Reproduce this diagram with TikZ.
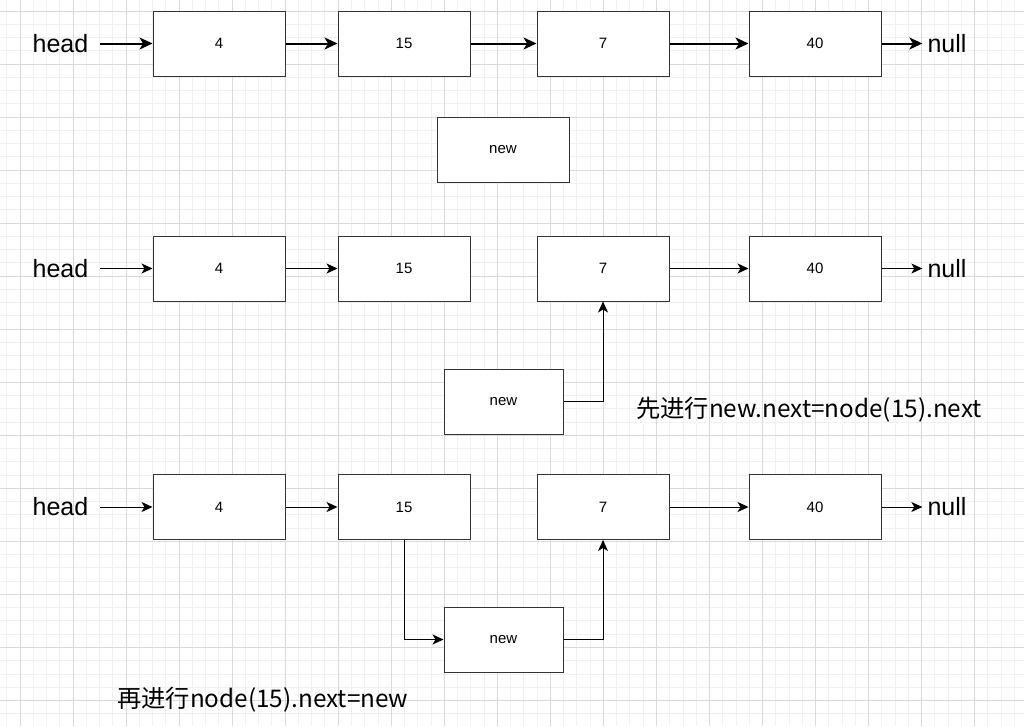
\documentclass[tikz,border=0pt]{standalone}
\usepackage{fontspec}
\setmainfont{Liberation Sans}
\newfontfamily\cjk{Noto Sans CJK SC}
\usetikzlibrary{arrows.meta,positioning}
\definecolor{gridminor}{HTML}{F1F1F1}
\definecolor{gridmajor}{HTML}{DADADA}
\definecolor{boxline}{HTML}{333333}

\begin{document}
\begin{tikzpicture}[
    x=1pt, y=-1pt,
    box/.style={draw=boxline, fill=white, line width=1pt, minimum width=132pt,
      minimum height=65pt, inner sep=0pt, font=\fontsize{15}{17}\selectfont},
    smallbox/.style={box, minimum width=119pt},
    word/.style={font=\fontsize{25}{29}\selectfont, inner sep=0pt},
    link/.style={-{Stealth[length=11pt,width=10pt,inset=3pt]}, line width=1pt},
    boldlink/.style={-{Stealth[length=13pt,width=12pt,inset=3.5pt]}, line width=2pt},
    note/.style={font=\cjk\fontsize{24.3}{28}\selectfont, inner sep=0pt, anchor=west}
  ]

  % Background grid
  \useasboundingbox (0,0) rectangle (1024,726);
  \fill[white] (0,0) rectangle (1024,726);
  \foreach \i in {-1,...,76}
    \draw[gridminor, line width=1pt] ({20+13.26*\i},0) -- ({20+13.26*\i},726);
  \foreach \j in {0,...,54}
    \draw[gridminor, line width=1pt] (0,{11+13.26*\j}) -- (1024,{11+13.26*\j});
  \foreach \i in {0,...,19}
    \draw[gridmajor, line width=1pt] ({20+53.04*\i},0) -- ({20+53.04*\i},726);
  \foreach \j in {0,...,13}
    \draw[gridmajor, line width=1pt] (0,{11+53.04*\j}) -- (1024,{11+53.04*\j});

  % Row 1: original list
  \node[word] (head1) at (60.5,43.5) {head};
  \node[box] (a4) at (219,43.5) {4};
  \node[box] (a15) at (404,43.5) {15};
  \node[box] (a7) at (603,43.5) {7};
  \node[box] (a40) at (815,43.5) {40};
  \node[word] (null1) at (947,43.5) {null};
  \node[box] (new1) at (503,149.5) {new};

  \draw[boldlink, shorten <=11pt] (head1) -- (a4);
  \draw[boldlink] (a4) -- (a15);
  \draw[boldlink] (a15) -- (a7);
  \draw[boldlink] (a7) -- (a40);
  \draw[boldlink, shorten >=5pt] (a40) -- (null1);

  % Row 2: new.next = node(15).next
  \node[word] (head2) at (60.5,268.5) {head};
  \node[box] (b4) at (219,268.5) {4};
  \node[box] (b15) at (404,268.5) {15};
  \node[box] (b7) at (603,268.5) {7};
  \node[box] (b40) at (815,268.5) {40};
  \node[word] (null2) at (947,268.5) {null};
  \node[smallbox] (new2) at (503.5,401.5) {new};

  \draw[link, shorten <=11pt] (head2) -- (b4);
  \draw[link] (b4) -- (b15);
  \draw[link] (b7) -- (b40);
  \draw[link, shorten >=5pt] (b40) -- (null2);
  \draw[link] (new2.east) -| (b7.south);

  \node[note] (step1) at (636,409.5) {先进行new.next=node(15).next};

  % Row 3: node(15).next = new
  \node[word] (head3) at (60.5,507) {head};
  \node[box] (c4) at (219,507) {4};
  \node[box] (c15) at (404,507) {15};
  \node[box] (c7) at (603,507) {7};
  \node[box] (c40) at (815,507) {40};
  \node[word] (null3) at (947,507) {null};
  \node[smallbox] (new3) at (503.5,639.5) {new};

  \draw[link, shorten <=11pt] (head3) -- (c4);
  \draw[link] (c4) -- (c15);
  \draw[link] (c7) -- (c40);
  \draw[link, shorten >=5pt] (c40) -- (null3);
  \draw[link] (c15.south) |- (new3.west);
  \draw[link] (new3.east) -| (c7.south);

  \node[note] (step2) at (117,699.5) {再进行node(15).next=new};

\end{tikzpicture}
\end{document}
